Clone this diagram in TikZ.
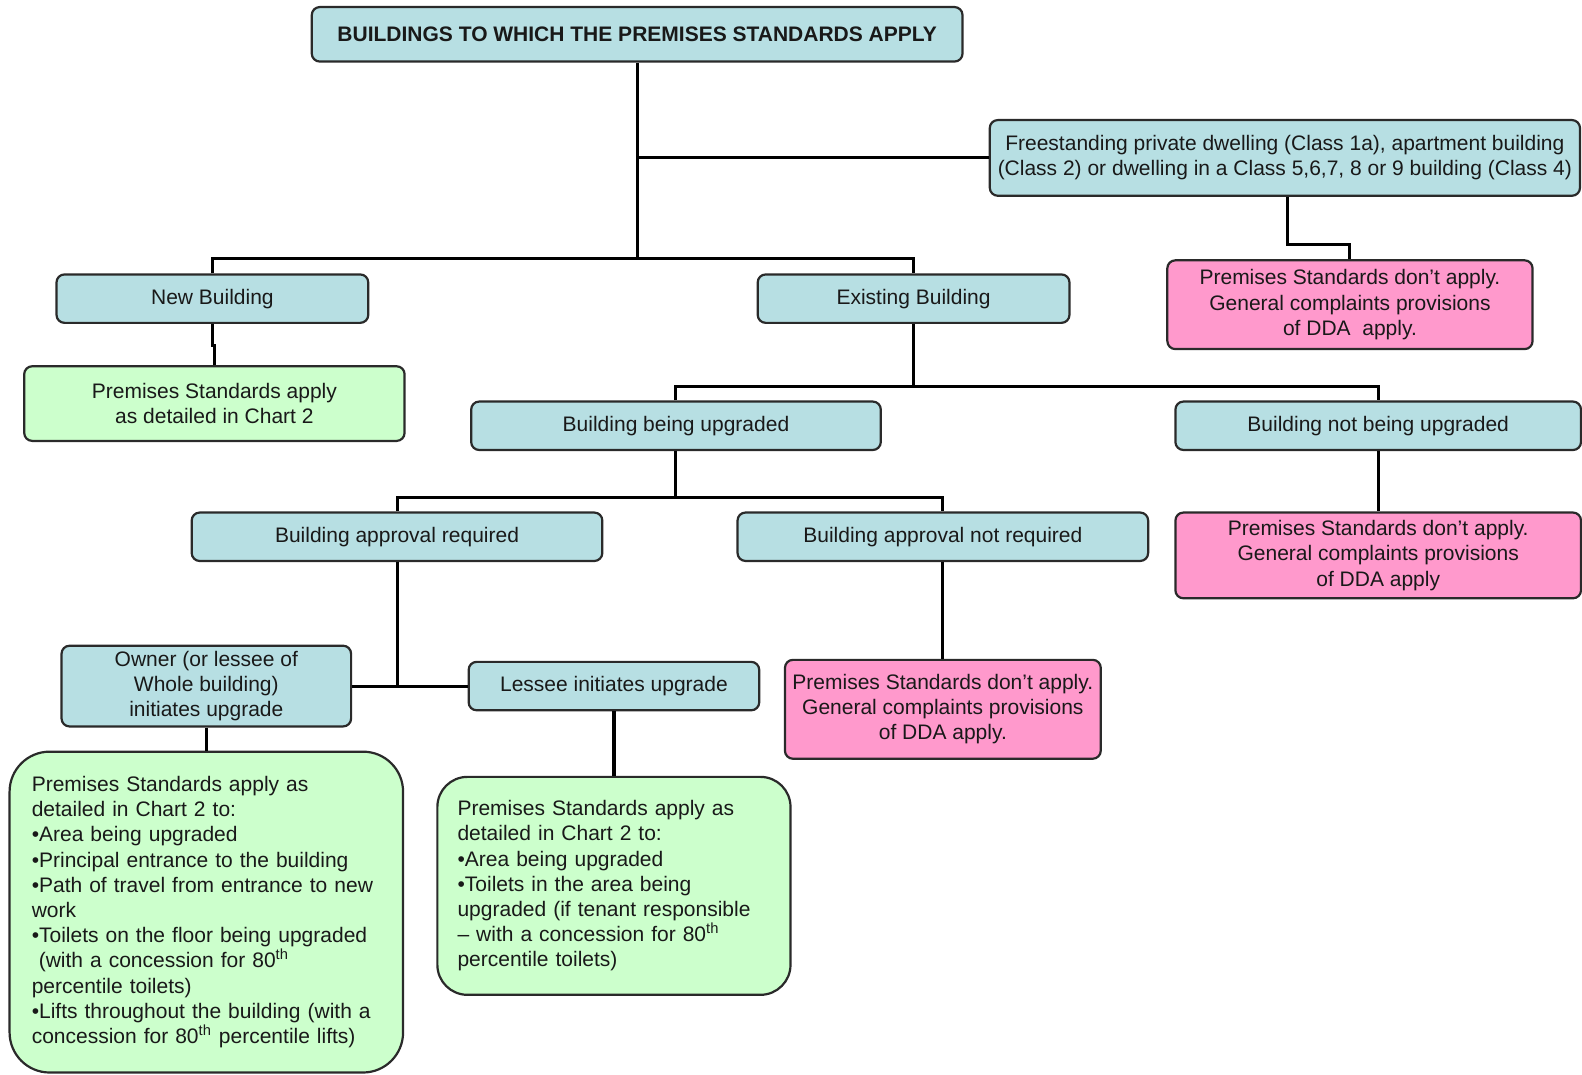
\documentclass[tikz,border=0pt]{standalone}
\usepackage{fontspec}
\setmainfont{Liberation Sans}
\definecolor{tealbox}{HTML}{B7DFE3}
\definecolor{pinkbox}{HTML}{FF99CC}
\definecolor{greenbox}{HTML}{CCFFCC}
\definecolor{edge}{HTML}{2A2A2A}
\def\pxu{0.50446pt}
\tikzset{
  base/.style={draw=edge, line width=1.1pt, rounded corners=4pt, inner sep=0pt,
    font=\fontsize{10.5}{12.6}\selectfont, text=black!90, align=center},
  wh/.style 2 args={minimum width=#1*\pxu, minimum height=#2*\pxu},
  tealnode/.style={base, fill=tealbox},
  pinknode/.style={base, fill=pinkbox},
  greennode/.style={base, fill=greenbox},
  conn/.style={line width=1.5pt, draw=black},
}
\begin{document}
\begin{tikzpicture}[x=\pxu, y=-\pxu]
\useasboundingbox (0,0) rectangle (1568,1065);

\node[tealnode, wh={645}{54}, font=\fontsize{10.5}{12.6}\selectfont\bfseries] (title) at (631.5,34) {BUILDINGS TO WHICH THE PREMISES STANDARDS APPLY};
\node[tealnode, wh={585}{75}] (free) at (1273.5,156.5) {Freestanding private dwelling (Class 1a), apartment building\\(Class 2) or dwelling in a Class 5,6,7, 8 or 9 building (Class 4)};
\node[pinknode, wh={362}{88}] (pink1) at (1338,302) {Premises Standards don’t apply.\\General complaints provisions\\of DDA\ \ apply.};
\node[tealnode, wh={309}{48}] (newb) at (210.5,296) {New Building};
\node[tealnode, wh={309}{48}] (exist) at (905.5,296) {Existing Building};
\node[greennode, wh={377}{74}] (green1) at (212.5,400) {Premises Standards apply\\as detailed in Chart 2};
\node[tealnode, wh={406}{48}] (upg) at (670,422) {Building being upgraded};
\node[tealnode, wh={402}{48}] (notupg) at (1366,422) {Building not being upgraded};
\node[tealnode, wh={407}{48}] (appr) at (393.5,532) {Building approval required};
\node[tealnode, wh={407}{48}] (noappr) at (934.5,532) {Building approval not required};
\node[pinknode, wh={402}{85}] (pink2) at (1366,550.5) {Premises Standards don’t apply.\\General complaints provisions\\of DDA apply};
\node[tealnode, wh={287}{80}] (owner) at (204.5,680) {Owner (or lessee of\\Whole building)\\initiates upgrade};
\node[tealnode, wh={288}{48}] (lessee) at (608.5,680) {Lessee initiates upgrade};
\node[pinknode, wh={313}{98}] (pink3) at (934.5,703) {Premises Standards don’t apply.\\General complaints provisions\\of DDA apply.};
\node[greennode, wh={389}{318}, rounded corners=20pt, align=left, text width=346*\pxu, inner xsep=22*\pxu] (greenL) at (204.5,904) {Premises Standards apply as\\detailed in Chart 2 to:\\•Area being upgraded\\•Principal entrance to the building\\•Path of travel from entrance to new\\work\\•Toilets on the floor being upgraded\\\ (with a concession for 80\textsuperscript{th}\\percentile toilets)\\•Lifts throughout the building (with a\\concession for 80\textsuperscript{th} percentile lifts)};
\node[greennode, wh={349}{216}, rounded corners=15pt, align=left, text width=310*\pxu, inner xsep=20*\pxu] (greenM) at (608.5,878) {Premises Standards apply as\\detailed in Chart 2 to:\\•Area being upgraded\\•Toilets in the area being\\upgraded (if tenant responsible\\– with a concession for 80\textsuperscript{th}\\percentile toilets)};

\coordinate (j1) at (631.5,256);
\coordinate (j2) at (1276,242);
\coordinate (j3) at (212.5,342);
\coordinate (j4) at (905.5,383);
\coordinate (j5) at (670,493);

\draw[conn] (title.south) -- (j1);
\draw[conn] (title.south |- free.west) -- (free.west);
\draw[conn] (newb.north) |- (j1) -| (exist.north);
\draw[conn] (free.south -| j2) -- (j2) -| (pink1.north);
\draw[conn] (newb.south) |- (j3) -- (green1.north);
\draw[conn] (exist.south) -- (j4);
\draw[conn] (upg.north) |- (j4) -| (notupg.north);
\draw[conn] (upg.south) -- (j5);
\draw[conn] (appr.north) |- (j5) -| (noappr.north);
\draw[conn] (appr.south) -- (appr.south |- owner.east);
\draw[conn] (owner.east) -- (lessee.west);
\draw[conn] (noappr.south) -- (pink3.north);
\draw[conn] (notupg.south) -- (pink2.north);
\draw[conn] (owner.south) -- (greenL.north);
\draw[conn, line width=2.2pt] (lessee.south) -- (greenM.north);
\end{tikzpicture}
\end{document}
